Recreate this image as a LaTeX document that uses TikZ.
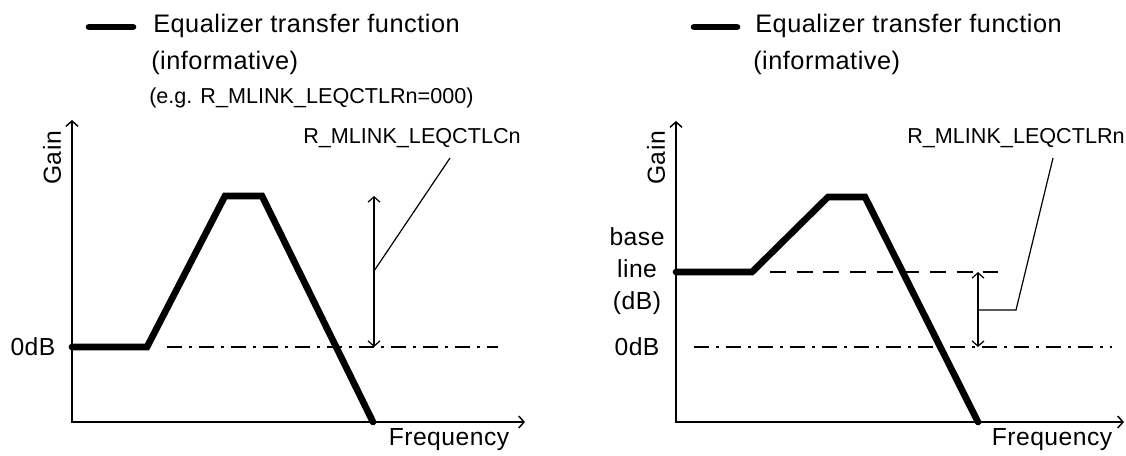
\documentclass[tikz,border=0pt]{standalone}
\usepackage{fontspec}
\setmainfont{Liberation Sans}
\newfontfamily\widefont{Liberation Sans}[LetterSpace=2]
\newfontfamily\legfont{Liberation Sans}[LetterSpace=2]
\usetikzlibrary{arrows.meta}

\begin{document}
\begin{tikzpicture}[x=0.75pt,y=-0.75pt]
  \tikzstyle{ax}=[line width=1.1pt,{Straight Barb[length=4pt,width=9pt]}-{Straight Barb[length=4pt,width=9pt]}]
  \tikzstyle{dim}=[line width=0.9pt,{Straight Barb[length=4pt,width=9pt]}-{Straight Barb[length=4pt,width=9pt]}]
  \tikzstyle{eq}=[line width=5pt,line cap=round,line join=miter]
  \tikzstyle{zero}=[line width=1.1pt,dash pattern=on 11pt off 5.5pt on 2pt off 5.5pt]
  \tikzstyle{base}=[line width=1.1pt,dash pattern=on 12pt off 8pt]
  \tikzstyle{lead}=[line width=0.9pt]
  \tikzstyle{lab}=[inner sep=0pt,font=\widefont\fontsize{18.5}{24}\selectfont]
  \tikzstyle{leg}=[inner sep=0pt,anchor=west,font=\legfont\fontsize{19}{21}\selectfont]
  \tikzstyle{reg}=[inner sep=0pt,font=\fontsize{16.2}{19}\selectfont]

  \useasboundingbox (0,0) rectangle (1126,455);

  % left graph
  \coordinate (o1) at (72,422) ;
  \coordinate (ytop1) at (72,120) ;
  \coordinate (xend1) at (525,422) ;
  \draw [ax] (ytop1) -- (o1) -- (xend1) ;

  \coordinate (legA) at (89,27) ;
  \coordinate (legB) at (133,27) ;
  \draw [eq] (legA) -- (legB) ;
  \node [leg] (eqtf1) at (153,26) {Equalizer transfer function} ;
  \node [leg] (info1) at (151,63) {(informative)} ;
  \node [reg,anchor=west] (eg1) at (149,98) {(e.g. R\_MLINK\_LEQCTLRn=000)} ;

  \node [lab,rotate=90] (gain1) at (52,158) {Gain} ;
  \node [lab] (zdb1) at (33,347) {0dB} ;
  \node [lab] (freq1) at (449,440) {Frequency} ;

  \coordinate (c1) at (72,347) ;
  \coordinate (c2) at (147,347) ;
  \coordinate (c3) at (225,196) ;
  \coordinate (c4) at (262,196) ;
  \coordinate (c5) at (373,422) ;
  \draw [eq] (c1) -- (c2) -- (c3) -- (c4) -- (c5) ;

  \coordinate (z1a) at (167,347) ;
  \coordinate (z1b) at (498,347) ;
  \draw [zero] (z1a) -- (z1b) ;

  \coordinate (d1top) at (374,196) ;
  \coordinate (d1bot) at (374,347) ;
  \draw [dim] (d1top) -- (d1bot) ;

  \node [reg] (ctlc) at (412,138) {R\_MLINK\_LEQCTLCn} ;
  \coordinate (l1a) at (374,271) ;
  \coordinate (l1b) at (450,158) ;
  \draw [lead] (l1a) -- (l1b) ;

  % right graph
  \coordinate (o2) at (676,422) ;
  \coordinate (ytop2) at (676,121) ;
  \coordinate (xend2) at (1124,422) ;
  \draw [ax] (ytop2) -- (o2) -- (xend2) ;

  \coordinate (legC) at (694,27) ;
  \coordinate (legD) at (737,27) ;
  \draw [eq] (legC) -- (legD) ;
  \node [leg] (eqtf2) at (755,26) {Equalizer transfer function} ;
  \node [leg] (info2) at (753,63) {(informative)} ;

  \node [lab,rotate=90] (gain2) at (656,158) {Gain} ;
  \node [lab,align=center] (bline) at (637,271) {base\\line\\(dB)} ;
  \node [lab] (zdb2) at (637,347) {0dB} ;
  \node [lab] (freq2) at (1052,440) {Frequency} ;

  \coordinate (e1) at (676,272) ;
  \coordinate (e2) at (752,272) ;
  \coordinate (e3) at (828,197) ;
  \coordinate (e4) at (865,197) ;
  \coordinate (e5) at (978,422) ;
  \draw [eq] (e1) -- (e2) -- (e3) -- (e4) -- (e5) ;

  \coordinate (b2a) at (770,272) ;
  \coordinate (b2b) at (998,272) ;
  \draw [base] (b2a) -- (b2b) ;

  \coordinate (z2a) at (694,347) ;
  \coordinate (z2b) at (1112,347) ;
  \draw [zero] (z2a) -- (z2b) ;

  \coordinate (d2top) at (978,272) ;
  \coordinate (d2bot) at (978,347) ;
  \draw [dim] (d2top) -- (d2bot) ;

  \node [reg] (ctlr) at (1016,138) {R\_MLINK\_LEQCTLRn} ;
  \coordinate (l2a) at (978,310) ;
  \coordinate (l2b) at (1016,310) ;
  \coordinate (l2c) at (1053,158) ;
  \draw [lead] (l2a) -- (l2b) -- (l2c) ;

\end{tikzpicture}
\end{document}
